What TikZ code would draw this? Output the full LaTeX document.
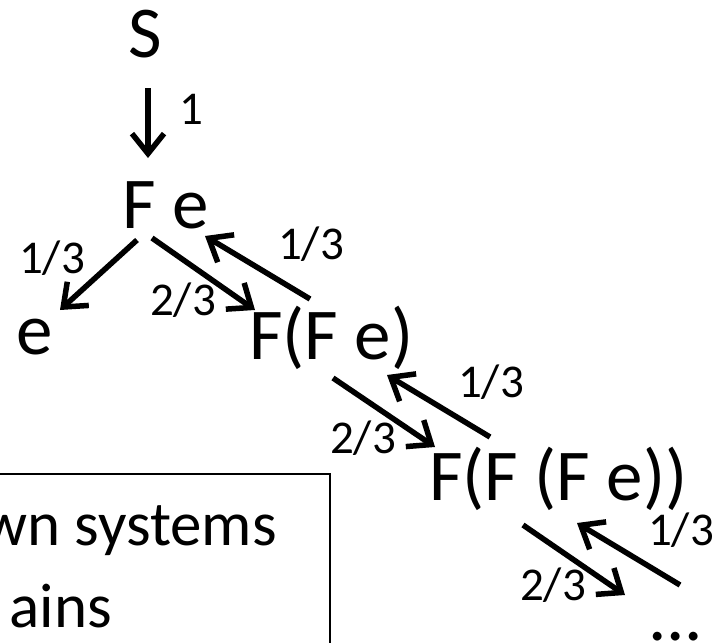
\documentclass[tikz,border=0pt]{standalone}
\usepackage{fontspec}
\setmainfont{Carlito}
\usetikzlibrary{arrows.meta}

\begin{document}
\begin{tikzpicture}[
  x=1pt,
  y=-1pt,
  term/.style={inner sep=0pt, anchor=base west, font=\fontsize{73}{88}\selectfont},
  prob/.style={inner sep=0pt, anchor=base, font=\fontsize{47}{56}\selectfont},
  note/.style={inner sep=0pt, font=\fontsize{63}{76}\selectfont},
  arr/.style={line width=5.5pt, -{Straight Barb[length=20pt, width=32pt]}}
]
\clip (0,0) rectangle (721,643);

\node[term] (s) at (128,57) {S};
\node[term] (fe) at (122,228) {F e};
\node[term] (e) at (16,354) {e};
\node[term] (ffe) at (249,359) {F(F e)};
\node[term] (fffe) at (429,500) {F(F (F e))};
\node[term] (dots) at (648,640) {...};

\draw[arr] ([shift={(20,31)}]s.base west) -- ([shift={(26,-70)}]fe.base west);
\draw[arr] ([shift={(15,12)}]fe.base west) -- ([shift={(44,-44)}]e.base west);
\draw[arr] ([shift={(30,10)}]fe.base west) -- ([shift={(6,-49)}]ffe.base west);
\draw[arr] ([shift={(61,-60)}]ffe.base west) -- ([shift={(83,8)}]fe.base west);
\draw[arr] ([shift={(84,19)}]ffe.base west) -- ([shift={(6,-53)}]fffe.base west);
\draw[arr] ([shift={(61,-63)}]fffe.base west) -- ([shift={(138,16)}]ffe.base west);
\draw[arr] ([shift={(94,25)}]fffe.base west) -- ([shift={(-23,-45)}]dots.base west);
\draw[arr] ([shift={(32,-55)}]dots.base west) -- ([shift={(148,23)}]fffe.base west);

\node[prob] (p1) at (191,124) {1};
\node[prob] (p2) at (52,273) {1/3};
\node[prob] (p3) at (183,315) {2/3};
\node[prob] (p4) at (311,259) {1/3};
\node[prob] (p5) at (491,397) {1/3};
\node[prob] (p6) at (363,453) {2/3};
\node[prob] (p7) at (681,545) {1/3};
\node[prob] (p8) at (553,600) {2/3};

% legend box, cut off by the page edge
\draw[line width=2pt] (-20,474) rectangle (330,700);
\node[note, anchor=base east] (l1) at (277,545) {wn systems};
\node[note, anchor=base east] (l2) at (112,627) {ains};
\end{tikzpicture}
\end{document}
